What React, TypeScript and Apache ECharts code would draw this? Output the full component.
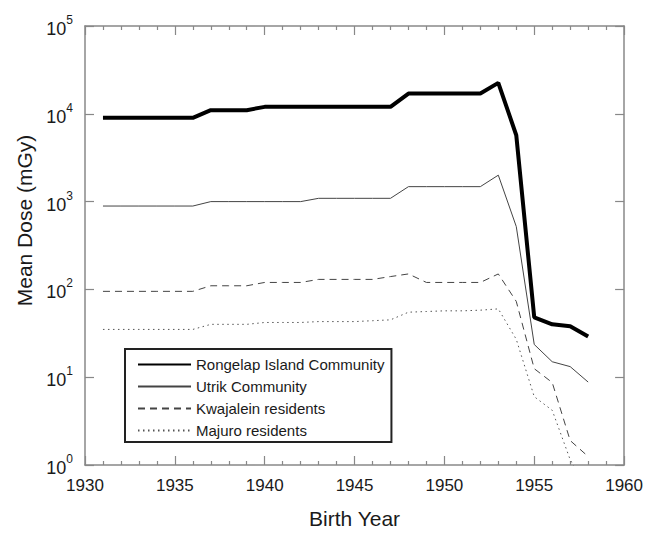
import React, { useEffect, useRef } from "react";
import * as echarts from "echarts";

const years = [1931, 1932, 1933, 1934, 1935, 1936, 1937, 1938, 1939, 1940, 1941, 1942, 1943, 1944, 1945, 1946, 1947, 1948, 1949, 1950, 1951, 1952, 1953, 1954, 1955, 1956, 1957, 1958];

const rongelap = [9000, 9000, 9000, 9000, 9000, 9000, 11000, 11000, 11000, 12000, 12000, 12000, 12000, 12000, 12000, 12000, 12000, 17000, 17000, 17000, 17000, 17000, 22500, 5700, 48, 40, 38, 29];
const utrik = [890, 890, 890, 890, 890, 890, 1000, 1000, 1000, 1000, 1000, 1000, 1090, 1090, 1090, 1090, 1090, 1480, 1480, 1480, 1480, 1480, 2000, 520, 23.6, 15, 13.2, 8.8];
const kwajalein = [95, 95, 95, 95, 95, 95, 110, 110, 110, 120, 120, 120, 130, 130, 130, 130, 140, 150, 120, 120, 120, 120, 150, 73, 12.5, 8.7, 1.9, 1.25];
const majuro = [35, 35, 35, 35, 35, 35, 40, 40, 40, 42, 42, 42, 43, 43, 43, 44, 45, 55, 56, 57, 57, 58, 60, 27, 6, 4.2, 1.15, 0.5];

const seriesNames = ["Rongelap Island Community", "Utrik Community", "Kwajalein residents", "Majuro residents"];
const xTicks = { min: 1930, max: 1960, interval: 5 };
const yRange = { min: 1, max: 100000 };

const FONT = "'Liberation Sans', Arial, Helvetica, sans-serif";
const AXIS_COLOR = "#888";
const TEXT_COLOR = "#1a1a1a";

function pairs(values: number[]) {
  return years.map((y, i) => [y, values[i]]);
}

export default function App() {
  const ref = useRef<HTMLDivElement>(null);
  useEffect(() => {
    if (!ref.current) return;
    const chart = echarts.init(ref.current, undefined, { renderer: "svg" });
    const axisLine = { show: true, onZero: false, lineStyle: { color: AXIS_COLOR, width: 1.5 } };
    const xCommon = {
      type: "value" as const,
      min: xTicks.min,
      max: xTicks.max,
      interval: xTicks.interval,
      axisLine,
      axisTick: { show: true, inside: true, length: 9, lineStyle: { color: AXIS_COLOR, width: 1.2 } },
      minorTick: { show: true, splitNumber: 5, length: 4, lineStyle: { color: AXIS_COLOR, width: 1.2 } },
      splitLine: { show: false },
      minorSplitLine: { show: false },
    };
    const yCommon = {
      type: "log" as const,
      logBase: 10,
      min: yRange.min,
      max: yRange.max,
      axisLine,
      axisTick: { show: true, inside: true, length: 9, lineStyle: { color: AXIS_COLOR, width: 1.2 } },
      minorTick: { show: false },
      splitLine: { show: false },
      minorSplitLine: { show: false },
    };
    const lineSeries = (name: string, data: number[], width: number, color: string, type: any) => ({
      name,
      type: "line" as const,
      data: pairs(data),
      xAxisIndex: 0,
      yAxisIndex: 0,
      symbol: "none",
      showSymbol: false,
      clip: true,
      lineStyle: { width, color, type },
      itemStyle: { color },
    });
    chart.setOption({
      animation: false,
      backgroundColor: "#ffffff",
      textStyle: { fontFamily: FONT },
      grid: { left: 85, right: 21, top: 26, bottom: 66, containLabel: false },
      legend: {
        show: true,
        orient: "vertical",
        left: 125,
        top: 349,
        data: seriesNames,
        itemWidth: 53,
        itemHeight: 14,
        itemGap: 7,
        padding: [8, 7, 4, 12],
        borderColor: "#222",
        borderWidth: 2,
        borderRadius: 0,
        backgroundColor: "#fff",
        selectedMode: false,
        itemStyle: { opacity: 0 },
        textStyle: { fontSize: 15, color: TEXT_COLOR, fontFamily: FONT },
      },
      xAxis: [
        {
          ...xCommon,
          position: "bottom",
          axisLabel: {
            show: true,
            fontSize: 17,
            color: TEXT_COLOR,
            margin: 12,
            fontFamily: FONT,
            showMinLabel: true,
            showMaxLabel: true,
            formatter: (v: number) => String(v),
          },
          name: "Birth Year",
          nameLocation: "middle",
          nameGap: 43,
          nameTextStyle: { fontSize: 21, color: TEXT_COLOR, fontFamily: FONT },
        },
        {
          ...xCommon,
          position: "top",
          axisLabel: { show: false },
        },
      ],
      yAxis: [
        {
          ...yCommon,
          position: "left",
          axisLabel: {
            show: true,
            margin: 12,
            showMinLabel: true,
            showMaxLabel: true,
            formatter: (v: number) => `{b|10}{s|${Math.round(Math.log10(v))}}`,
            rich: {
              b: { fontSize: 18, lineHeight: 24, color: TEXT_COLOR, fontFamily: FONT, verticalAlign: "bottom" },
              s: { fontSize: 12, lineHeight: 12, color: TEXT_COLOR, fontFamily: FONT, verticalAlign: "top" },
            },
          },
          name: "Mean Dose (mGy)",
          nameLocation: "middle",
          nameGap: 50,
          nameRotate: 90,
          nameTextStyle: { fontSize: 21, color: TEXT_COLOR, fontFamily: FONT, padding: [0, 0, 0, 50] },
        },
        {
          ...yCommon,
          position: "right",
          axisLabel: { show: false },
        },
      ],
      series: [
        lineSeries(seriesNames[0], rongelap, 4, "#000000", "solid"),
        lineSeries(seriesNames[1], utrik, 1, "#444444", "solid"),
        lineSeries(seriesNames[2], kwajalein, 1, "#444444", [7, 5]),
        lineSeries(seriesNames[3], majuro, 1, "#555555", [1.5, 3.5]),
      ],
    });
    return () => chart.dispose();
  }, []);
  return <div ref={ref} style={{ position: "fixed", left: 0, top: 0, width: 646, height: 534 }} />;
}
